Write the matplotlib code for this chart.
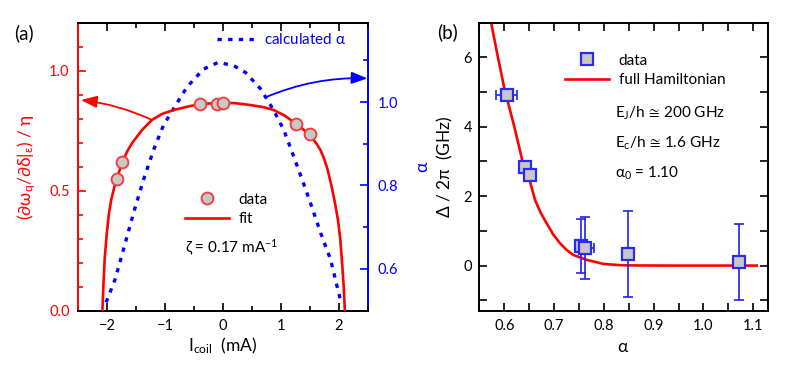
import matplotlib
matplotlib.use('Agg')
import matplotlib.pyplot as plt
from matplotlib.lines import Line2D
from matplotlib.ticker import MultipleLocator

plt.rcParams['font.family'] = ['Lato', 'DejaVu Sans']
plt.rcParams['mathtext.fontset'] = 'custom'
plt.rcParams['mathtext.rm'] = 'Lato'
plt.rcParams['mathtext.it'] = 'Lato:italic'
plt.rcParams['mathtext.bf'] = 'Lato:bold'
plt.rcParams['mathtext.fallback'] = 'stix'
plt.rcParams['mathtext.default'] = 'regular'

# ---- panel (a): slope data, fit and calculated alpha ----
i_data = [-1.83, -1.745, -0.39, -0.10, 0.0, 1.266, 1.496]
slope_data = [0.547, 0.618, 0.861, 0.861, 0.867, 0.777, 0.735]

i_fit = [-2.08, -2.06, -2.04, -2.004, -1.97, -1.929, -1.88, -1.83, -1.745,
         -1.65, -1.572, -1.40, -1.226, -1.05, -0.853, -0.60, -0.392, -0.15,
         0.0, 0.20, 0.472, 0.70, 0.874, 1.07, 1.266, 1.40, 1.50, 1.60, 1.68,
         1.75, 1.80, 1.86, 1.92, 1.98, 2.02, 2.055, 2.08, 2.10]
slope_fit = [0.0, 0.12, 0.22, 0.322, 0.40, 0.461, 0.51, 0.55, 0.615,
             0.665, 0.697, 0.752, 0.795, 0.820, 0.836, 0.851, 0.861, 0.865,
             0.866, 0.865, 0.857, 0.848, 0.836, 0.812, 0.777, 0.752, 0.730,
             0.700, 0.669, 0.628, 0.590, 0.530, 0.461, 0.380, 0.300, 0.190,
             0.100, 0.0]

i_alpha = [-2.016, -1.86, -1.70, -1.544, -1.371, -1.198, -1.025, -0.853,
           -0.622, -0.335, -0.08, 0.183, 0.385, 0.644, 0.874, 1.047, 1.219,
           1.364, 1.537, 1.680, 1.853, 2.026]
alpha_calc = [0.520, 0.5755, 0.655, 0.734, 0.814, 0.885, 0.945, 0.984,
              1.036, 1.079, 1.095, 1.087, 1.071, 1.032, 0.980, 0.933, 0.869,
              0.814, 0.746, 0.687, 0.623, 0.524]

# ---- panel (b): gap vs alpha ----
alpha_data = [0.605, 0.641, 0.651, 0.754, 0.762, 0.849, 1.071]
gap_data = [4.91, 2.84, 2.62, 0.566, 0.50, 0.336, 0.097]
alpha_err = [0.021, 0.004, 0.004, 0.0, 0.019, 0.0, 0.0]
gap_err = [0.08, 0.08, 0.08, 0.79, 0.89, 1.245, 1.10]

alpha_ham = [0.5727, 0.585, 0.5994, 0.61, 0.62, 0.636, 0.65, 0.6617, 0.673,
             0.685, 0.698, 0.7118, 0.725, 0.7386, 0.7655, 0.799, 0.832, 0.87,
             0.95, 1.0, 1.107]
gap_ham = [7.05, 6.15, 5.14, 4.55, 4.0, 3.03, 2.50, 1.886, 1.52,
           1.217, 0.90, 0.643, 0.45, 0.307, 0.164, 0.049, 0.012, 0.003,
           0.0, 0.0, 0.0]

RED = '#ff0000'
BLUE = '#0000ff'
FS_TICK = 10.5
FS_TXT = 11
FS_LAB = 12.5

fig = plt.figure(figsize=(7.89, 3.68), dpi=100)
ax = fig.add_axes([0.0989, 0.1557, 0.3676, 0.7826])
ax2 = ax.twinx()
axb = fig.add_axes([0.6071, 0.1557, 0.3659, 0.7826])

# panel (a)
ax2.plot(i_alpha, alpha_calc, color=BLUE, lw=2.4, dashes=(1.3, 1.9))
ax.plot(i_fit, slope_fit, color=RED, lw=1.9, zorder=3)
ax.plot(i_data, slope_data, 'o', ms=8.5, mfc='#c8c8c8', mec='#f04040',
        mew=1.4, zorder=4)
ax.set_zorder(ax2.get_zorder() + 1)
ax.patch.set_visible(False)

ax.set_xlim(-2.5, 2.5)
ax.set_ylim(0, 1.2)
ax2.set_ylim(0.5, 1.19)
ax.xaxis.set_major_locator(MultipleLocator(1))
ax.xaxis.set_minor_locator(MultipleLocator(0.5))
ax.yaxis.set_major_locator(MultipleLocator(0.5))
ax.yaxis.set_minor_locator(MultipleLocator(0.1))
ax2.yaxis.set_major_locator(MultipleLocator(0.2))
ax2.yaxis.set_minor_locator(MultipleLocator(0.1))

for a in (ax, ax2, axb):
    for s in a.spines.values():
        s.set_linewidth(1.4)
ax.spines['left'].set_color(RED)
ax.spines['right'].set_visible(False)
ax2.spines['left'].set_visible(False)
ax2.spines['right'].set_color(BLUE)

ax.tick_params(which='both', direction='in', top=True, right=False,
               labelsize=FS_TICK, width=1.2)
ax.tick_params(which='major', length=5.5)
ax.tick_params(which='minor', length=3.5)
ax.tick_params(axis='y', which='both', colors=RED, pad=6)
ax.tick_params(axis='x', pad=6)
ax2.tick_params(which='both', direction='in', colors=BLUE, labelsize=FS_TICK,
                width=1.2, pad=7)
ax2.tick_params(which='major', length=5.5)
ax2.tick_params(which='minor', length=3.5)

ax.set_xlabel(r'$I_{coil}$  (mA)', fontsize=FS_LAB, labelpad=2)
ax.set_ylabel(r'$(\partial\omega_q/\partial\delta|_\varepsilon)$ / $\eta$',
              fontsize=FS_LAB, color=RED, labelpad=8)
ax2.set_ylabel(r'$\alpha$', fontsize=FS_LAB, color=BLUE, labelpad=12)

ax.annotate('', xy=(-2.45, 0.878), xytext=(-1.226, 0.795),
            arrowprops=dict(arrowstyle='-|>,head_length=0.8,head_width=0.3',
                            color=RED, lw=1.3, mutation_scale=12,
                            shrinkA=0, shrinkB=0,
                            connectionstyle='arc3,rad=0.08'))
ax.annotate('', xy=(2.49, 0.968), xytext=(0.73, 0.889),
            arrowprops=dict(arrowstyle='-|>,head_length=0.8,head_width=0.3',
                            color=BLUE, lw=1.3, mutation_scale=12,
                            shrinkA=0, shrinkB=0,
                            connectionstyle='arc3,rad=-0.11'))

leg1 = ax.legend(handles=[ax.lines[1], ax.lines[0]], labels=['data', 'fit'],
                 loc='center left', bbox_to_anchor=(0.369, 0.352),
                 frameon=False, fontsize=FS_TXT, numpoints=1,
                 handlelength=2.9, handletextpad=0.6, labelspacing=0.35,
                 borderpad=0, borderaxespad=0)
ax.add_artist(leg1)
alpha_handle = Line2D([], [], color=BLUE, lw=2.4, dashes=(1.3, 1.9))
ax.legend(handles=[alpha_handle], labels=[r'calculated $\alpha$'],
          loc='center left', bbox_to_anchor=(0.479, 0.940),
          frameon=False, fontsize=FS_TXT, handlelength=2.5,
          handletextpad=0.55, borderpad=0, borderaxespad=0,
          labelcolor=BLUE)
ax.text(0.369, 0.218, r'$\zeta$ = 0.17 mA$^{-1}$', transform=ax.transAxes,
        fontsize=FS_TXT, ha='left', va='center')

# panel (b)
axb.plot(alpha_ham, gap_ham, color=RED, lw=1.9, zorder=2)
axb.errorbar(alpha_data, gap_data, xerr=alpha_err, yerr=gap_err, fmt='none',
             ecolor='#2020f0', elinewidth=1.2, capsize=3.5, capthick=1.2,
             zorder=3)
axb.plot(alpha_data, gap_data, 's', ms=8, mfc='#c8c8c8', mec='#2a2af0',
         mew=1.6, zorder=4)

axb.set_xlim(0.549, 1.129)
axb.set_ylim(-1.3, 7)
axb.xaxis.set_major_locator(MultipleLocator(0.1))
axb.xaxis.set_minor_locator(MultipleLocator(0.05))
axb.yaxis.set_major_locator(MultipleLocator(2))
axb.yaxis.set_minor_locator(MultipleLocator(1))
axb.tick_params(which='both', direction='in', top=True, right=True,
                labelsize=FS_TICK, width=1.2, length=5.5)
axb.tick_params(axis='x', pad=6)
axb.tick_params(axis='y', pad=5)
axb.set_xlabel(r'$\alpha$', fontsize=FS_LAB, labelpad=4)
axb.set_ylabel(r'$\Delta$ / 2$\pi$  (GHz)', fontsize=FS_LAB, labelpad=6)

axb.legend(handles=[axb.lines[-1], axb.lines[0]],
           labels=['data', 'full Hamiltonian'], loc='center left',
           bbox_to_anchor=(0.298, 0.834), frameon=False, fontsize=FS_TXT,
           numpoints=1, handlelength=2.9, handletextpad=0.6,
           labelspacing=0.35, borderpad=0, borderaxespad=0)
txt_x = 0.471
axb.text(txt_x, 0.685, r'E$_J$/h$\,\cong\,$200 GHz', transform=axb.transAxes,
         fontsize=FS_TXT, va='center')
axb.text(txt_x, 0.581, r'E$_c$/h$\,\cong\,$1.6 GHz', transform=axb.transAxes,
         fontsize=FS_TXT, va='center')
axb.text(txt_x, 0.477, r'$\alpha_0$ = 1.10', transform=axb.transAxes,
         fontsize=FS_TXT, va='center')

fig.text(0.0304, 0.910, '(a)', fontsize=13.5, ha='center', va='center')
fig.text(0.567, 0.913, '(b)', fontsize=13.5, ha='center', va='center')

fig.savefig('out.png', dpi=100)
